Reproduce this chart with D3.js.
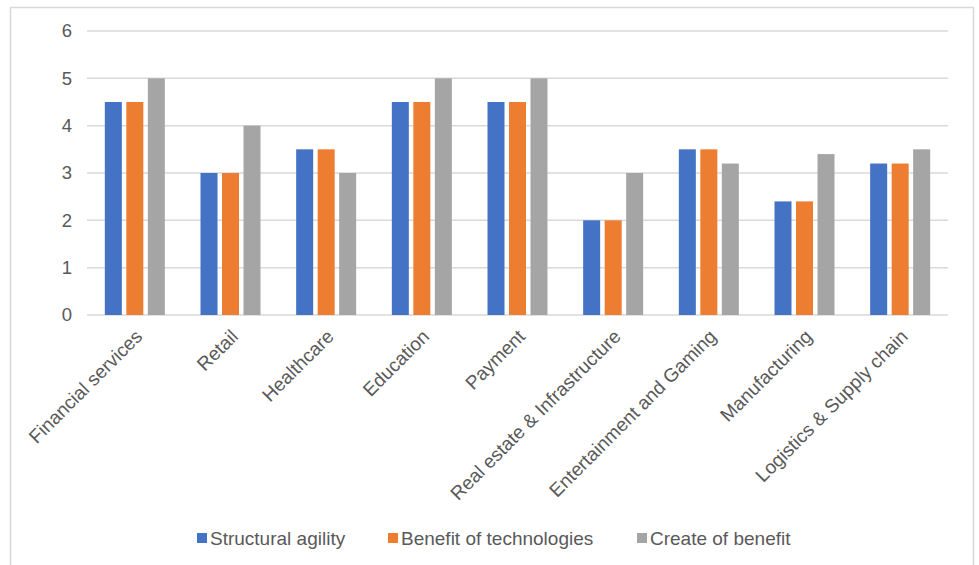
<!DOCTYPE html>
<html lang="en">
<head>
  <meta charset="UTF-8">
  <title>Sector scores</title>
  <script src="https://d3js.org/d3.v7.min.js"></script>
  <style>
    body { margin: 0; background: white; font-family: "Liberation Sans", Arial, sans-serif; }
    .grid line { stroke: #d9d9d9; stroke-width: 1.5px; }
  </style>
</head>
<body>
<svg id="svg"></svg>
<script>
// data
const categories = ["Financial services", "Retail", "Healthcare", "Education", "Payment",
  "Real estate & Infrastructure", "Entertainment and Gaming", "Manufacturing", "Logistics & Supply chain"];
const seriesNames = ["Structural agility", "Benefit of technologies", "Create of benefit"];
const structuralAgility = [4.5, 3, 3.5, 4.5, 4.5, 2, 3.5, 2.4, 3.2];
const benefitOfTech = [4.5, 3, 3.5, 4.5, 4.5, 2, 3.5, 2.4, 3.2];
const createOfBenefit = [5, 4, 3, 5, 5, 3, 3.2, 3.4, 3.5];
const yTicks = [0, 1, 2, 3, 4, 5, 6];
const colours = ["#4472c4", "#ed7d31", "#a5a5a5"];

const width = 979, height = 565;
const svg = d3.select("#svg").attr("width", width).attr("height", height);

// outer frame
svg.append("rect")
  .attr("x", 10.5).attr("y", 7.5)
  .attr("width", 963).attr("height", 570)
  .attr("fill", "none").attr("stroke", "#d9d9d9").attr("stroke-width", 1.5);

const plotLeft = 87, plotRight = 948, plotTop = 31, plotBottom = 315;

const x = d3.scaleBand().domain(categories).range([plotLeft, plotRight]);
const y = d3.scaleLinear().domain([0, 6]).range([plotBottom, plotTop]);

// gridlines
svg.append("g").attr("class", "grid")
  .selectAll("line")
  .data(yTicks)
  .join("line")
  .attr("x1", plotLeft).attr("x2", plotRight)
  .attr("y1", d => y(d)).attr("y2", d => y(d));

// y labels
svg.append("g")
  .selectAll("text")
  .data(yTicks)
  .join("text")
  .attr("x", 72)
  .attr("y", d => y(d))
  .attr("dy", "0.35em")
  .attr("text-anchor", "end")
  .attr("fill", "#595959")
  .style("font-size", "18.5px")
  .text(d => d);

// bars
const series = [structuralAgility, benefitOfTech, createOfBenefit];
const step = 21.5, barW = 17;
series.forEach((vals, s) => {
  svg.append("g")
    .selectAll("rect")
    .data(vals)
    .join("rect")
    .attr("x", (d, i) => x(categories[i]) + x.bandwidth() / 2 + (s - 1) * step - barW / 2)
    .attr("y", d => y(d))
    .attr("width", barW)
    .attr("height", d => plotBottom - y(d))
    .attr("fill", colours[s]);
});

// category labels
svg.append("g")
  .selectAll("text")
  .data(categories)
  .join("text")
  .attr("transform", d => `translate(${x(d) + x.bandwidth() / 2 + 4},${plotBottom + 18}) rotate(-45)`)
  .attr("text-anchor", "end")
  .attr("dy", "0.35em")
  .attr("fill", "#595959")
  .style("font-size", "19px")
  .text(d => d);

// legend
const legendX = [197, 388, 637];
const legend = svg.append("g")
  .selectAll("g")
  .data(seriesNames)
  .join("g")
  .attr("transform", (d, i) => `translate(${legendX[i]},538)`);
legend.append("rect")
  .attr("x", 0).attr("y", -5)
  .attr("width", 10).attr("height", 10)
  .attr("fill", (d, i) => colours[i]);
legend.append("text")
  .attr("x", 13).attr("dy", "0.35em")
  .attr("fill", "#595959")
  .style("font-size", "19px")
  .text(d => d);
</script>
</body>
</html>
